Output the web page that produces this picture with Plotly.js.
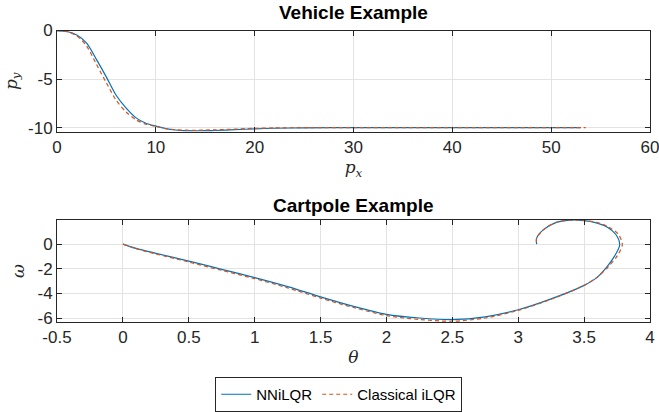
<!DOCTYPE html>
<html>
<head>
<meta charset="utf-8">
<script src="https://cdn.plot.ly/plotly-3.0.1.min.js"></script>
<style>html,body{margin:0;padding:0;background:#fff;}#chart{width:659px;height:412px;}</style>
</head>
<body>
<div id="chart"></div>
<script>
// Vehicle example
const vehNNx = [0,1,2,3,4,5,6,7,8,9,10,11,12,13,14,15,16,18,20,22,25,30,35,40,45,50,53];
const vehNNy = [0,-0.1,-0.45,-1.3,-3.0,-4.8,-6.7,-8.0,-9.0,-9.55,-9.85,-10.1,-10.25,-10.32,-10.33,-10.32,-10.3,-10.22,-10.13,-10.07,-10.03,-10.0,-10.0,-10.0,-10.0,-10.0,-10.0];
const vehCLx = [0,1,2,3,4,5,6,7,8,9,10,11,12,13,14,15,16,18,20,22,25,30,35,40,45,50,53.5];
const vehCLy = [0,-0.12,-0.55,-1.6,-3.5,-5.4,-7.2,-8.4,-9.2,-9.65,-9.88,-10.1,-10.22,-10.27,-10.28,-10.26,-10.23,-10.16,-10.08,-10.04,-10.01,-10.0,-10.0,-10.0,-10.0,-10.0,-10.0];
// Cartpole example
const cpNNth = [0,0.1,0.25,0.5,0.75,1.0,1.25,1.5,1.75,2.0,2.25,2.5,2.75,3.0,3.25,3.5,3.6,3.67,3.73,3.77,3.74,3.68,3.6,3.5,3.41,3.29,3.19,3.14,3.14];
const cpNNom = [0,-0.35,-0.75,-1.38,-2.05,-2.72,-3.45,-4.28,-5.05,-5.7,-6.0,-6.13,-5.9,-5.33,-4.45,-3.35,-2.7,-1.9,-1.0,-0.05,0.8,1.35,1.7,1.9,1.95,1.76,1.15,0.48,0];
const cpCLth = [0,0.1,0.25,0.5,0.75,1.0,1.25,1.5,1.75,2.0,2.25,2.5,2.75,3.0,3.25,3.5,3.6,3.68,3.75,3.79,3.76,3.69,3.61,3.5,3.41,3.29,3.19,3.14,3.14];
const cpCLom = [0,-0.37,-0.8,-1.45,-2.13,-2.8,-3.55,-4.38,-5.15,-5.8,-6.12,-6.26,-6.0,-5.38,-4.48,-3.35,-2.68,-1.88,-0.98,-0.05,0.8,1.37,1.72,1.92,1.96,1.77,1.15,0.48,0];

const xTopTicks = [0,10,20,30,40,50,60];
const yTopTicks = [0,-5,-10];
const yTopText = ['0','-5','-10'];
const xBotTicks = [-0.5,0,0.5,1,1.5,2,2.5,3,3.5,4];
const xBotText = ['-0.5','0','0.5','1','1.5','2','2.5','3','3.5','4'];
const yBotTicks = [0,-2,-4,-6];
const yBotText = ['0','-2','-4','-6'];

const blue = '#0072BD', orange = '#D95319';
const lineNN = {color: blue, width: 1.2, shape: 'spline', smoothing: 0.8};
const lineCL = {color: orange, width: 1.2, dash: '4px,3px', shape: 'spline', smoothing: 0.8};

const traces = [
  {x: vehNNx, y: vehNNy, type: 'scatter', mode: 'lines', name: 'NNiLQR', line: lineNN, xaxis: 'x', yaxis: 'y'},
  {x: vehCLx, y: vehCLy, type: 'scatter', mode: 'lines', name: 'Classical iLQR', line: lineCL, xaxis: 'x', yaxis: 'y'},
  {x: cpNNth, y: cpNNom, type: 'scatter', mode: 'lines', name: 'NNiLQR', line: lineNN, xaxis: 'x2', yaxis: 'y2', showlegend: false},
  {x: cpCLth, y: cpCLom, type: 'scatter', mode: 'lines', name: 'Classical iLQR', line: lineCL, xaxis: 'x2', yaxis: 'y2', showlegend: false}
];

const axBase = {
  showline: true, linecolor: '#262626', linewidth: 1, mirror: 'ticks',
  ticks: 'inside', ticklen: 5, tickcolor: '#262626', tickwidth: 1,
  showgrid: true, gridcolor: '#e3e3e3', gridwidth: 1, zeroline: false,
  tickfont: {family: 'Liberation Sans, Arial, sans-serif', size: 17, color: '#262626'},
  ticklabeloverflow: 'allow',
  fixedrange: true
};
const labelFont = {family: 'DejaVu Serif, serif', size: 17, color: '#262626'};

const layout = {
  width: 659, height: 412,
  margin: {l: 0, r: 0, t: 0, b: 0},
  paper_bgcolor: '#fff', plot_bgcolor: '#fff',
  showlegend: true,
  xaxis: Object.assign({}, axBase, {
    domain: [0.0865, 0.9863], range: [0, 60], tickvals: xTopTicks, anchor: 'y',
    title: {text: '<i>p</i><sub><i>x</i></sub>', font: labelFont, standoff: 4}
  }),
  yaxis: Object.assign({}, axBase, {
    domain: [0.6748, 0.9248], range: [-10.46, 0], tickvals: yTopTicks, ticktext: yTopText, anchor: 'x',
    title: {text: '<i>p</i><sub><i>y</i></sub>', font: labelFont, standoff: 6}
  }),
  xaxis2: Object.assign({}, axBase, {
    domain: [0.0865, 0.9863], range: [-0.5, 4], tickvals: xBotTicks, ticktext: xBotText, anchor: 'y2',
    title: {text: '<i>θ</i>', font: labelFont, standoff: 4}
  }),
  yaxis2: Object.assign({}, axBase, {
    domain: [0.2070, 0.4580], range: [-6.32, 1.95], tickvals: yBotTicks, ticktext: yBotText, anchor: 'x2',
    title: {text: '<i>ω</i>', font: labelFont, standoff: 8}
  }),
  annotations: [
    {text: '<b>Vehicle Example</b>', xref: 'paper', yref: 'paper', x: 0.5365, y: 1 - 13/412, xanchor: 'center', yanchor: 'middle', showarrow: false,
     font: {family: 'Liberation Sans, Arial, sans-serif', size: 19, color: '#000'}},
    {text: '<b>Cartpole Example</b>', xref: 'paper', yref: 'paper', x: 0.5365, y: 1 - 209/412, xanchor: 'center', yanchor: 'middle', showarrow: false,
     font: {family: 'Liberation Sans, Arial, sans-serif', size: 19, color: '#000'}}
  ],
  legend: {
    orientation: 'h', x: 0.514, y: 1 - 383/412, xanchor: 'center', yanchor: 'top',
    bordercolor: '#262626', borderwidth: 1, bgcolor: '#fff',
    font: {family: 'Liberation Sans, Arial, sans-serif', size: 15, color: '#000'},
    itemwidth: 30, tracegroupgap: 0
  }
};

Plotly.newPlot('chart', traces, layout, {displayModeBar: false, staticPlot: true});
</script>
</body>
</html>
